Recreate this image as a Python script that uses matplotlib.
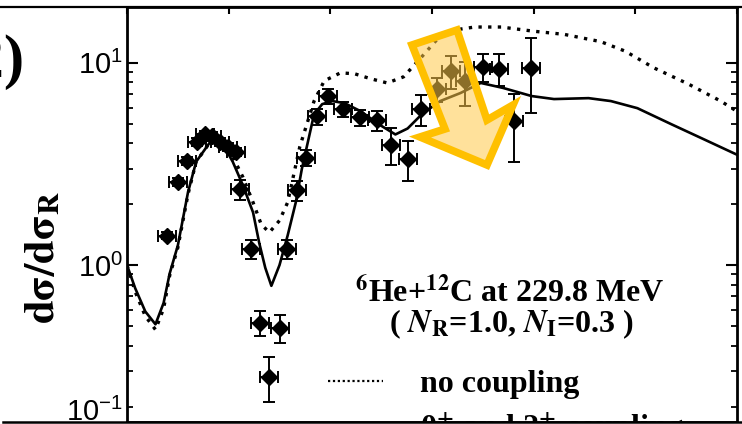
import matplotlib
matplotlib.use("Agg")
import matplotlib.pyplot as plt
from matplotlib.patches import Polygon, Rectangle
from matplotlib.lines import Line2D
from matplotlib.ticker import MultipleLocator, LogLocator, NullFormatter

plt.rcParams['font.family'] = 'Liberation Sans'
plt.rcParams['mathtext.fontset'] = 'custom'
plt.rcParams['mathtext.rm'] = 'Liberation Sans'
plt.rcParams['mathtext.it'] = 'Liberation Sans:italic'
plt.rcParams['mathtext.bf'] = 'Liberation Sans:bold'

# 0+ and 2+ coupling (solid)
theta_cc = [0.0, 0.4, 0.9, 1.4, 1.8, 2.1, 2.5, 3.0, 3.4, 4.1, 4.7, 5.2, 5.7, 6.2, 6.5,
            6.8, 7.1, 7.5, 7.9, 8.3, 8.6, 9.2, 9.6, 10.1, 10.7, 11.5, 12.4, 13.2, 13.8,
            14.5, 15.4, 16.4, 17.4, 18.5, 19.9, 21.0, 22.7, 23.8, 25.1, 26.8, 28.4, 30.0]
ratio_cc = [1.00, 0.77, 0.59, 0.51, 0.65, 0.91, 1.25, 2.29, 3.24, 4.07, 3.98, 3.24, 2.48,
            1.82, 1.29, 0.97, 0.79, 1.00, 1.40, 2.04, 2.99, 5.56, 6.24, 6.46, 6.31, 5.75,
            4.95, 4.42, 4.73, 5.56, 6.46, 7.08, 7.94, 7.50, 6.84, 6.61, 6.68, 6.46, 5.96,
            4.95, 4.17, 3.51]

# no coupling (dotted)
theta_nc = [0.0, 0.4, 0.9, 1.4, 1.8, 2.1, 2.5, 3.0, 3.4, 4.1, 4.7, 5.2, 5.7, 6.2, 6.6,
            7.0, 7.5, 7.9, 8.5, 9.2, 9.7, 10.5, 11.2, 12.0, 12.8, 13.6, 14.5, 15.3, 16.1,
            17.1, 18.4, 20.0, 21.5, 23.3, 24.5, 25.9, 27.6, 29.2, 30.0]
ratio_nc = [1.00, 0.74, 0.56, 0.48, 0.61, 0.89, 1.22, 2.24, 3.24, 4.07, 4.07, 3.43, 2.72,
            2.04, 1.59, 1.45, 1.66, 2.04, 3.85, 6.46, 8.13, 8.91, 8.81, 8.32, 7.94, 8.51,
            10.7, 13.2, 14.5, 15.0, 15.0, 14.3, 13.8, 12.7, 11.4, 9.44, 7.85, 6.46, 5.75]

# measured points
theta_exp = [1.97, 2.51, 2.95, 3.44, 3.84, 4.18, 4.57, 4.97, 5.36, 5.56, 6.10, 7.87,
             8.36, 8.80, 9.35, 9.89, 10.62, 11.46, 12.30, 12.98, 13.82, 14.46, 15.25,
             15.94, 16.63, 17.51, 18.30, 19.03, 19.87, 6.54, 7.53, 6.98]
ratio_exp = [1.40, 2.57, 3.27, 4.07, 4.42, 4.32, 4.07, 3.85, 3.63, 2.37, 1.20, 1.20,
             2.34, 3.39, 5.43, 6.84, 5.89, 5.37, 5.19, 3.94, 3.35, 5.89, 7.41, 9.12,
             8.13, 9.55, 9.33, 5.13, 9.44, 0.52, 0.49, 0.28]
err_exp = [0.06, 0.12, 0.15, 0.18, 0.2, 0.2, 0.18, 0.17, 0.16, 0.27, 0.13, 0.13,
           0.27, 0.3, 0.5, 0.6, 0.5, 0.5, 0.6, 0.8, 0.75, 1.0, 1.0, 1.7, 2.0, 1.5,
           1.7, 1.9, 3.8, 0.076, 0.08, 0.07]
xerr_exp = 0.45

W, H = 742, 424


def fp(x, y):
    # pixel (from top-left) -> figure fraction
    return x / W, 1 - y / H


fig = plt.figure(figsize=(7.42, 4.24), dpi=100)
ax = fig.add_axes([127 / W, 2 / H, 610 / W, 415 / H])

ax.plot(theta_cc, ratio_cc, color='black', lw=1.9)
ax.plot(theta_nc, ratio_nc, color='black', lw=2.4, ls=(0, (1, 1.9)))
ax.errorbar(theta_exp, ratio_exp, yerr=err_exp, xerr=xerr_exp, fmt='D', color='black',
            ms=8, capsize=4, elinewidth=1.4, capthick=1.4)

ax.set_yscale('log')
ax.set_xlim(0, 30)
ax.set_ylim(10 ** -0.775, 10 ** 1.275)
ax.xaxis.set_major_locator(MultipleLocator(5))
ax.yaxis.set_major_locator(LogLocator(base=10, numticks=10))
ax.yaxis.set_minor_locator(LogLocator(base=10, subs=range(2, 10), numticks=10))
ax.yaxis.set_minor_formatter(NullFormatter())
ax.tick_params(axis='x', which='both', bottom=False, top=True, labelbottom=False,
               direction='in', length=5, width=1.5)
ax.tick_params(axis='y', which='major', left=True, right=True, direction='in',
               length=8, width=1.5, labelsize=21, pad=3)
ax.tick_params(axis='y', which='minor', left=True, right=True, direction='in',
               length=4, width=1.3)
for s in ax.spines.values():
    s.set_linewidth(2)

# y label and clipped bits
fig.text(*fp(43, 258), r'$\mathbf{d\sigma/d\sigma_{R}}$',
         math_fontfamily='stix', fontsize=31, rotation=90, ha='center', va='center')
fig.text(*fp(25, 62), '(2)', family='Liberation Serif', fontweight='bold',
         fontsize=44, ha='right', va='center')
fig.text(*fp(123, 412), r'$10^{-1}$', fontsize=21, ha='right', va='center')

# annotation text
serif = dict(family='Liberation Serif', fontweight='bold', math_fontfamily='stix')
fig.text(*fp(510, 293), r'$^{\mathbf{6}}$He+$^{\mathbf{12}}$C at 229.8 MeV',
         fontsize=23, ha='center', va='center', **serif)
fig.text(*fp(512, 324), r'( $\mathbfit{N}_{\mathbf{R}}$=1.0, $\mathbfit{N}_{\mathbf{I}}$=0.3 )',
         fontsize=23, ha='center', va='center', **serif)
fig.text(*fp(420, 392), 'no coupling', fontsize=23, ha='left', va='baseline', **serif)
fig.text(*fp(420, 437), r'0$^{\mathbf{+}}$ and 2$^{\mathbf{+}}$ coupling',
         fontsize=23, ha='left', va='baseline', **serif)
x0, y0 = fp(328, 381)
x1, _ = fp(383, 381)
fig.add_artist(Line2D([x0, x1], [y0, y0], color='black', lw=1.6, ls=(0, (1, 1.2)),
                      transform=fig.transFigure))

# highlight arrow
arrow_px = [(412, 45), (457, 30), (487, 120), (513, 105), (487, 165), (420, 137), (445, 129)]
fig.add_artist(Polygon([fp(x, y) for x, y in arrow_px], closed=True,
                       transform=fig.transFigure, facecolor='#FFC94A', alpha=0.55,
                       edgecolor='none', zorder=5))
fig.add_artist(Polygon([fp(x, y) for x, y in arrow_px], closed=True,
                       transform=fig.transFigure, facecolor='none',
                       edgecolor='#FFC000', lw=5.5, joinstyle='miter', zorder=6))

# frame lines
fig.add_artist(Rectangle((0, 0), 1, 2 / H, transform=fig.transFigure,
                         facecolor='white', edgecolor='none', zorder=10))
fig.add_artist(Line2D([3 / W, 1], [1 - 422 / H] * 2, color='black', lw=1.8,
                      transform=fig.transFigure, zorder=11))
fig.add_artist(Line2D([0, 1], [1 - 7 / H] * 2, color='black', lw=1.6,
                      transform=fig.transFigure, zorder=11))

fig.savefig('out.png', dpi=100)
